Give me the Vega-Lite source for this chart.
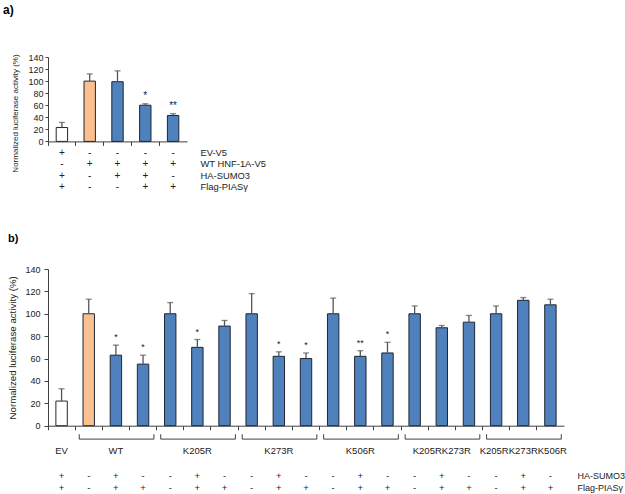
{
  "$schema": "https://vega.github.io/schema/vega-lite/v6.json",
  "padding": {"left": 3, "top": 4, "right": 0, "bottom": 0},
  "background": "white",
  "config": {
    "view": {"stroke": null},
    "font": "Liberation Sans",
    "axis": {"domainColor": "#404040", "tickColor": "#404040", "labelColor": "#222222", "titleColor": "#222222", "grid": false, "labelFont": "Liberation Sans", "titleFont": "Liberation Sans", "titleFontWeight": "normal"},
    "text": {"font": "Liberation Sans", "color": "#222222"},
    "title": {"font": "Liberation Sans", "fontWeight": "bold", "anchor": "start", "frame": "group", "color": "#000000"}
  },
  "datasets": {
    "barsA": [
      {"id": "a1", "kind": "ev", "value": 23, "upper": 31.5, "star": ""},
      {"id": "a2", "kind": "ctrl", "value": 100, "upper": 112, "star": ""},
      {"id": "a3", "kind": "test", "value": 99, "upper": 117, "star": ""},
      {"id": "a4", "kind": "test", "value": 60, "upper": 62.5, "star": "*"},
      {"id": "a5", "kind": "test", "value": 43, "upper": 46, "star": "**"}
    ],
    "signsA": [
      {"id": "a1", "row": "EV-V5", "sign": "+"},
      {"id": "a2", "row": "EV-V5", "sign": "-"},
      {"id": "a3", "row": "EV-V5", "sign": "-"},
      {"id": "a4", "row": "EV-V5", "sign": "-"},
      {"id": "a5", "row": "EV-V5", "sign": "-"},
      {"id": "a1", "row": "WT HNF-1A-V5", "sign": "-"},
      {"id": "a2", "row": "WT HNF-1A-V5", "sign": "+"},
      {"id": "a3", "row": "WT HNF-1A-V5", "sign": "+"},
      {"id": "a4", "row": "WT HNF-1A-V5", "sign": "+"},
      {"id": "a5", "row": "WT HNF-1A-V5", "sign": "+"},
      {"id": "a1", "row": "HA-SUMO3", "sign": "+"},
      {"id": "a2", "row": "HA-SUMO3", "sign": "-"},
      {"id": "a3", "row": "HA-SUMO3", "sign": "+"},
      {"id": "a4", "row": "HA-SUMO3", "sign": "+"},
      {"id": "a5", "row": "HA-SUMO3", "sign": "-"},
      {"id": "a1", "row": "Flag-PIASγ", "sign": "+"},
      {"id": "a2", "row": "Flag-PIASγ", "sign": "-"},
      {"id": "a3", "row": "Flag-PIASγ", "sign": "-"},
      {"id": "a4", "row": "Flag-PIASγ", "sign": "+"},
      {"id": "a5", "row": "Flag-PIASγ", "sign": "+"}
    ],
    "barsB": [
      {"id": "b0", "kind": "ev", "value": 22, "upper": 33, "star": ""},
      {"id": "b1", "kind": "ctrl", "value": 100, "upper": 113, "star": ""},
      {"id": "b2", "kind": "test", "value": 63, "upper": 72, "star": "*"},
      {"id": "b3", "kind": "test", "value": 55, "upper": 63, "star": "*"},
      {"id": "b4", "kind": "test", "value": 100, "upper": 110, "star": ""},
      {"id": "b5", "kind": "test", "value": 70, "upper": 77, "star": "*"},
      {"id": "b6", "kind": "test", "value": 89, "upper": 94, "star": ""},
      {"id": "b7", "kind": "test", "value": 100, "upper": 118, "star": ""},
      {"id": "b8", "kind": "test", "value": 62, "upper": 66, "star": "*"},
      {"id": "b9", "kind": "test", "value": 60, "upper": 65, "star": "*"},
      {"id": "b10", "kind": "test", "value": 100, "upper": 114, "star": ""},
      {"id": "b11", "kind": "test", "value": 62, "upper": 67, "star": "**"},
      {"id": "b12", "kind": "test", "value": 65, "upper": 74.5, "star": "*"},
      {"id": "b13", "kind": "test", "value": 100, "upper": 107, "star": ""},
      {"id": "b14", "kind": "test", "value": 87.5, "upper": 89.5, "star": ""},
      {"id": "b15", "kind": "test", "value": 92.5, "upper": 98.5, "star": ""},
      {"id": "b16", "kind": "test", "value": 100, "upper": 107, "star": ""},
      {"id": "b17", "kind": "test", "value": 112, "upper": 114.5, "star": ""},
      {"id": "b18", "kind": "test", "value": 108, "upper": 113, "star": ""}
    ],
    "bracketsB": [
      {"group": "WT", "first": "b1", "last": "b3"},
      {"group": "K205R", "first": "b4", "last": "b6"},
      {"group": "K273R", "first": "b7", "last": "b9"},
      {"group": "K506R", "first": "b10", "last": "b12"},
      {"group": "K205RK273R", "first": "b13", "last": "b15"},
      {"group": "K205RK273RK506R", "first": "b16", "last": "b18"}
    ],
    "labelsB": [
      {"label": "EV", "mid": "b0"},
      {"label": "WT", "mid": "b2"},
      {"label": "K205R", "mid": "b5"},
      {"label": "K273R", "mid": "b8"},
      {"label": "K506R", "mid": "b11"},
      {"label": "K205RK273R", "mid": "b14"},
      {"label": "K205RK273RK506R", "mid": "b17"}
    ],
    "signsB": [
      {"id": "b0", "row": "HA-SUMO3", "sign": "+"}, {"id": "b0", "row": "Flag-PIASγ", "sign": "+"},
      {"id": "b1", "row": "HA-SUMO3", "sign": "-"}, {"id": "b1", "row": "Flag-PIASγ", "sign": "-"},
      {"id": "b2", "row": "HA-SUMO3", "sign": "+"}, {"id": "b2", "row": "Flag-PIASγ", "sign": "+"},
      {"id": "b3", "row": "HA-SUMO3", "sign": "-"}, {"id": "b3", "row": "Flag-PIASγ", "sign": "+"},
      {"id": "b4", "row": "HA-SUMO3", "sign": "-"}, {"id": "b4", "row": "Flag-PIASγ", "sign": "-"},
      {"id": "b5", "row": "HA-SUMO3", "sign": "+"}, {"id": "b5", "row": "Flag-PIASγ", "sign": "+"},
      {"id": "b6", "row": "HA-SUMO3", "sign": "-"}, {"id": "b6", "row": "Flag-PIASγ", "sign": "+"},
      {"id": "b7", "row": "HA-SUMO3", "sign": "-"}, {"id": "b7", "row": "Flag-PIASγ", "sign": "-"},
      {"id": "b8", "row": "HA-SUMO3", "sign": "+"}, {"id": "b8", "row": "Flag-PIASγ", "sign": "+"},
      {"id": "b9", "row": "HA-SUMO3", "sign": "-"}, {"id": "b9", "row": "Flag-PIASγ", "sign": "+"},
      {"id": "b10", "row": "HA-SUMO3", "sign": "-"}, {"id": "b10", "row": "Flag-PIASγ", "sign": "-"},
      {"id": "b11", "row": "HA-SUMO3", "sign": "+"}, {"id": "b11", "row": "Flag-PIASγ", "sign": "+"},
      {"id": "b12", "row": "HA-SUMO3", "sign": "-"}, {"id": "b12", "row": "Flag-PIASγ", "sign": "+"},
      {"id": "b13", "row": "HA-SUMO3", "sign": "-"}, {"id": "b13", "row": "Flag-PIASγ", "sign": "-"},
      {"id": "b14", "row": "HA-SUMO3", "sign": "+"}, {"id": "b14", "row": "Flag-PIASγ", "sign": "+"},
      {"id": "b15", "row": "HA-SUMO3", "sign": "-"}, {"id": "b15", "row": "Flag-PIASγ", "sign": "+"},
      {"id": "b16", "row": "HA-SUMO3", "sign": "-"}, {"id": "b16", "row": "Flag-PIASγ", "sign": "-"},
      {"id": "b17", "row": "HA-SUMO3", "sign": "+"}, {"id": "b17", "row": "Flag-PIASγ", "sign": "+"},
      {"id": "b18", "row": "HA-SUMO3", "sign": "-"}, {"id": "b18", "row": "Flag-PIASγ", "sign": "+"}
    ]
  },
  "spacing": 40,
  "vconcat": [
    {
      "spacing": 5,
      "bounds": "flush",
      "vconcat": [
        {
          "title": {"text": "a)", "dx": -45, "fontSize": 12, "offset": 36},
          "width": 139,
          "height": 84.4,
          "data": {"name": "barsA"},
          "encoding": {
            "x": {"field": "id", "type": "nominal", "sort": null,
                  "scale": {"type": "band", "domain": ["a1", "a2", "a3", "a4", "a5"], "paddingInner": 0, "paddingOuter": 0},
                  "axis": {"title": null, "labels": false, "ticks": true, "tickSize": 4, "bandPosition": 0}},
            "y": {"field": "value", "type": "quantitative",
                  "scale": {"domain": [0, 140]},
                  "axis": {"values": [0, 20, 40, 60, 80, 100, 120, 140], "title": "Normalized luciferase activity (%)", "titleFontSize": 8, "labelFontSize": 9, "tickSize": 3, "labelPadding": 2, "titleY": 56, "titlePadding": 8}}
          },
          "layer": [
            {
              "mark": {"type": "bar", "width": {"band": 0.41}, "stroke": "#1f2633", "strokeWidth": 1},
              "encoding": {
                "fill": {"field": "kind", "type": "nominal", "scale": {"domain": ["ev", "ctrl", "test"], "range": ["#ffffff", "#FAC090", "#4F81BD"]}, "legend": null}
              }
            },
            {
              "mark": {"type": "rule", "color": "#555555", "strokeWidth": 1.3},
              "encoding": {"y2": {"field": "upper"}}
            },
            {
              "mark": {"type": "tick", "orient": "horizontal", "size": 6, "thickness": 1.3, "color": "#555555"},
              "encoding": {"y": {"field": "upper", "type": "quantitative"}}
            },
            {
              "mark": {"type": "text", "baseline": "bottom", "dy": -3, "fontSize": 10},
              "encoding": {"y": {"field": "upper", "type": "quantitative"}, "text": {"field": "star"}}
            }
          ]
        },
        {
          "width": 139,
          "height": 46,
          "data": {"name": "signsA"},
          "mark": {"type": "text", "fontSize": 10},
          "encoding": {
            "x": {"field": "id", "type": "nominal", "sort": null,
                  "scale": {"type": "band", "domain": ["a1", "a2", "a3", "a4", "a5"], "paddingInner": 0, "paddingOuter": 0}, "axis": null},
            "y": {"field": "row", "type": "nominal", "sort": null,
                  "scale": {"type": "band", "domain": ["EV-V5", "WT HNF-1A-V5", "HA-SUMO3", "Flag-PIASγ"], "paddingInner": 0, "paddingOuter": 0},
                  "axis": {"orient": "right", "title": null, "domain": false, "ticks": false, "labelPadding": 13, "labelFontSize": 9.4, "labelAlign": "left"}},
            "text": {"field": "sign"}
          }
        }
      ]
    },
    {
      "spacing": 2,
      "vconcat": [
        {
          "title": {"text": "b)", "dx": -40, "fontSize": 11, "offset": 21},
          "width": 516,
          "height": 156.7,
          "data": {"name": "barsB"},
          "encoding": {
            "x": {"field": "id", "type": "nominal", "sort": null,
                  "scale": {"type": "band", "domain": ["b0", "b1", "b2", "b3", "b4", "b5", "b6", "b7", "b8", "b9", "b10", "b11", "b12", "b13", "b14", "b15", "b16", "b17", "b18"], "paddingInner": 0, "paddingOuter": 0},
                  "axis": {"title": null, "labels": false, "ticks": true, "tickSize": 4, "bandPosition": 0}},
            "y": {"field": "value", "type": "quantitative",
                  "scale": {"domain": [0, 140]},
                  "axis": {"values": [0, 20, 40, 60, 80, 100, 120, 140], "title": "Normalized luciferase activity (%)", "titleFontSize": 9.7, "labelFontSize": 9, "tickSize": 4, "labelPadding": 4, "titlePadding": 7}}
          },
          "layer": [
            {
              "mark": {"type": "bar", "width": {"band": 0.42}, "stroke": "#1f2633", "strokeWidth": 1},
              "encoding": {
                "fill": {"field": "kind", "type": "nominal", "scale": {"domain": ["ev", "ctrl", "test"], "range": ["#ffffff", "#FAC090", "#4F81BD"]}, "legend": null}
              }
            },
            {
              "mark": {"type": "rule", "color": "#555555", "strokeWidth": 1.3},
              "encoding": {"y2": {"field": "upper"}}
            },
            {
              "mark": {"type": "tick", "orient": "horizontal", "size": 6, "thickness": 1.3, "color": "#555555"},
              "encoding": {"y": {"field": "upper", "type": "quantitative"}}
            },
            {
              "mark": {"type": "text", "baseline": "bottom", "dy": -3, "fontSize": 9},
              "encoding": {"y": {"field": "upper", "type": "quantitative"}, "text": {"field": "star"}}
            }
          ]
        },
        {
          "width": 516,
          "height": 61,
          "encoding": {
            "x": {"field": "id", "type": "nominal", "sort": null,
                  "scale": {"type": "band", "domain": ["b0", "b1", "b2", "b3", "b4", "b5", "b6", "b7", "b8", "b9", "b10", "b11", "b12", "b13", "b14", "b15", "b16", "b17", "b18"], "paddingInner": 0, "paddingOuter": 0},
                  "axis": null}
          },
          "layer": [
            {
              "data": {"name": "bracketsB"},
              "mark": {"type": "rule", "color": "#404040", "strokeWidth": 1},
              "encoding": {
                "x": {"field": "first", "type": "nominal", "bandPosition": 0.15},
                "x2": {"field": "last", "bandPosition": 0.9},
                "y": {"datum": "br", "type": "nominal", "bandPosition": 0.5}
              }
            },
            {
              "data": {"name": "bracketsB"},
              "mark": {"type": "rule", "color": "#404040", "strokeWidth": 1},
              "encoding": {
                "x": {"field": "first", "type": "nominal", "bandPosition": 0.15},
                "y": {"datum": "br", "type": "nominal", "bandPosition": 0.1},
                "y2": {"datum": "br", "bandPosition": 0.5}
              }
            },
            {
              "data": {"name": "bracketsB"},
              "mark": {"type": "rule", "color": "#404040", "strokeWidth": 1},
              "encoding": {
                "x": {"field": "last", "type": "nominal", "bandPosition": 0.9},
                "y": {"datum": "br", "type": "nominal", "bandPosition": 0.1},
                "y2": {"datum": "br", "bandPosition": 0.5}
              }
            },
            {
              "data": {"name": "labelsB"},
              "mark": {"type": "text", "fontSize": 9.5},
              "encoding": {
                "x": {"field": "mid", "type": "nominal"},
                "y": {"datum": "grp", "type": "nominal"},
                "text": {"field": "label"}
              }
            },
            {
              "data": {"name": "signsB"},
              "mark": {"type": "text", "fontSize": 9.5},
              "encoding": {
                "y": {"field": "row", "type": "nominal",
                      "scale": {"type": "band", "domain": ["br", "grp", "gap", "HA-SUMO3", "Flag-PIASγ"], "paddingInner": 0, "paddingOuter": 0},
                      "axis": {"orient": "right", "title": null, "domain": false, "ticks": false, "values": ["HA-SUMO3", "Flag-PIASγ"], "labelPadding": 13, "labelFontSize": 9, "labelAlign": "left"}},
                "text": {"field": "sign"}
              }
            }
          ]
        }
      ]
    }
  ]
}
